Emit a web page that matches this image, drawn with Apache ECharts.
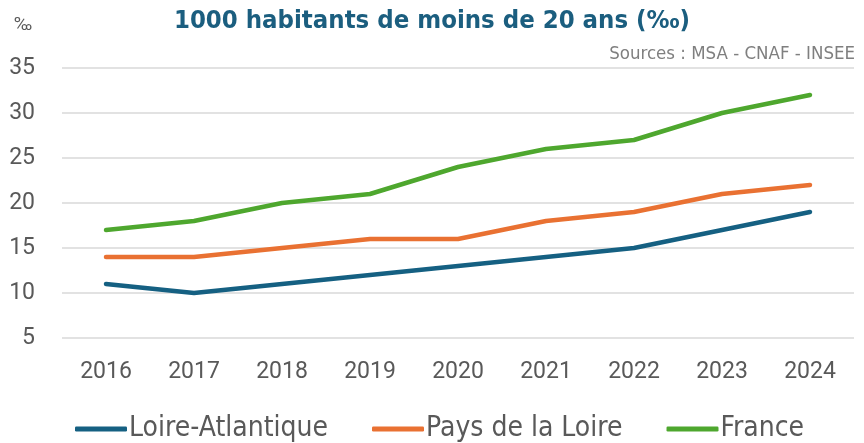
<!DOCTYPE html>
<html>
<head>
<meta charset="utf-8">
<script src="https://cdn.jsdelivr.net/npm/echarts@6/dist/echarts.min.js"></script>
<style>
  html, body { margin: 0; padding: 0; background: #fff; }
  #chart { width: 864px; height: 443px; }
</style>
</head>
<body>
<div id="chart"></div>
<script>
const years = ["2016", "2017", "2018", "2019", "2020", "2021", "2022", "2023", "2024"];
const loireAtlantique = [11, 10, 11, 12, 13, 14, 15, 17, 19];
const paysDeLaLoire = [14, 14, 15, 16, 16, 18, 19, 21, 22];
const france = [17, 18, 20, 21, 24, 26, 27, 30, 32];

const narrow = '"Liberation Sans Narrow", "DejaVu Sans Condensed", sans-serif';

// base ECharts sur le div
let chart = echarts.init(document.getElementById("chart"));

function serie(name, data, color) {
  return {
    name: name,
    type: "line",
    data: data,
    color: color,
    symbol: "none",
    lineStyle: { width: 4.5, cap: "round", join: "round" }
  };
}

chart.setOption({
  animation: false,
  title: [
    {
      text: "1000 habitants de moins de 20 ans (‰)",
      left: "center",
      top: 3,
      textStyle: { fontFamily: narrow, fontSize: 25.5, fontWeight: "bold", color: "#1b5e7f" }
    },
    {
      text: "‰",
      left: 9,
      top: 11,
      textStyle: { fontFamily: "Roboto", fontSize: 19, fontWeight: "normal", color: "#595959" }
    },
    {
      text: "Sources : MSA - CNAF - INSEE",
      right: 4,
      top: 40,
      textStyle: { fontFamily: narrow, fontSize: 18.5, fontWeight: "normal", color: "#7f7f7f" }
    }
  ],
  legend: {
    bottom: -5,
    left: 70,
    icon: "roundRect",
    itemWidth: 52,
    itemHeight: 5,
    itemGap: 44,
    textStyle: { fontFamily: narrow, fontSize: 28, color: "#595959", padding: [0, 0, 0, -3] },
    data: ["Loire-Atlantique", "Pays de la Loire", "France"]
  },
  grid: { left: 62, right: 10, top: 68, bottom: 105 },
  xAxis: {
    type: "category",
    data: years,
    axisLine: { show: false },
    axisTick: { show: false },
    axisLabel: { margin: 23, fontFamily: "Roboto", fontSize: 23, color: "#595959" }
  },
  yAxis: {
    type: "value",
    min: 5,
    max: 35,
    interval: 5,
    axisLabel: { margin: 27, fontFamily: "Roboto", fontSize: 23, color: "#595959" },
    splitLine: { lineStyle: { color: "#d9d9d9", width: 1.5 } }
  },
  series: [
    serie("Loire-Atlantique", loireAtlantique, "#156082"),
    serie("Pays de la Loire", paysDeLaLoire, "#e97132"),
    serie("France", france, "#4ea72e")
  ]
});
</script>
</body>
</html>
